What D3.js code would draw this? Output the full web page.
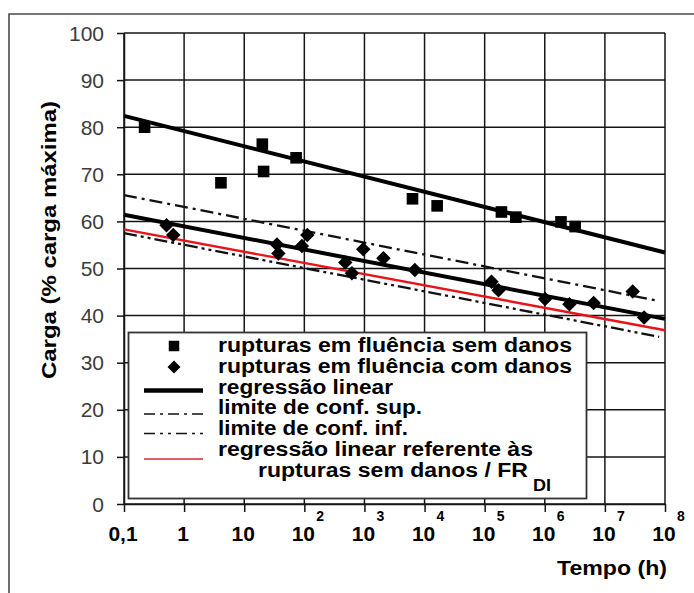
<!DOCTYPE html>
<html>
<head>
<meta charset="utf-8">
<script src="https://cdn.jsdelivr.net/npm/d3@7"></script>
<style>
  body { margin: 0; background: #fff; }
  svg { display: block; }
  text { font-family: "Liberation Sans", Arial, Helvetica, sans-serif; }
</style>
</head>
<body>
<svg id="chart" width="694" height="593"></svg>
<script>
// Axis ticks
const timeTicks = [0.1, 1, 10, 1e2, 1e3, 1e4, 1e5, 1e6, 1e7, 1e8];
const timeTickBase = ["0,1", "1", "10", "10", "10", "10", "10", "10", "10", "10"];
const timeTickExp = ["", "", "", "2", "3", "4", "5", "6", "7", "8"];
const loadTicks = [0, 10, 20, 30, 40, 50, 60, 70, 80, 90, 100];

// Creep ruptures without damage (time in h, load in % of max)
const semDanosTime = [0.22, 4.1, 20, 21, 73, 6300, 16200, 1.9e5, 3.3e5, 1.86e6, 3.2e6];
const semDanosLoad = [80.0, 68.2, 76.4, 70.6, 73.5, 64.8, 63.3, 62.0, 60.9, 59.9, 58.9];

// Creep ruptures with damage
const comDanosTime = [0.51, 0.66, 35, 37, 91, 112, 480, 620, 955, 2070, 6900,
                      1.3e5, 1.7e5, 1.01e6, 2.57e6, 6.5e6, 2.9e7, 4.5e7];
const comDanosLoad = [59.2, 57.1, 55.1, 53.2, 54.8, 57.1, 51.3, 49.0, 54.1, 52.2, 49.7,
                      47.2, 45.4, 43.5, 42.4, 42.7, 45.1, 39.6];

// Fitted lines (end points)
const regSemTime = [0.1, 1e8];
const regSemLoad = [82.4, 53.4];
const regComTime = [0.1, 1e8];
const regComLoad = [61.4, 39.3];
const confSupTime = [0.1, 8e7];
const confSupLoad = [65.6, 43.1];
const confInfTime = [0.1, 8e7];
const confInfLoad = [57.5, 35.5];
const regRedTime = [0.1, 1e8];
const regRedLoad = [58.3, 36.9];

const legendLabels = [
  "rupturas em fluência sem danos",
  "rupturas em fluência com danos",
  "regressão linear",
  "limite de conf. sup.",
  "limite de conf. inf.",
  "regressão linear referente às"
];

const svg = d3.select("#chart");
const x = d3.scaleLog().domain([0.1, 1e8]).range([124, 665]);
const y = d3.scaleLinear().domain([0, 100]).range([504, 33]);

// outer frame (top and left edges)
svg.append("path")
  .attr("d", "M9,593 L9,14 L694,14")
  .attr("fill", "none").attr("stroke", "#4a4a4a").attr("stroke-width", 1.6);

// grid
const grid = svg.append("g").attr("stroke", "#151515").attr("stroke-width", 1.5);
grid.selectAll("line.v").data(timeTicks).join("line")
  .attr("x1", d => x(d)).attr("x2", d => x(d))
  .attr("y1", y(100)).attr("y2", y(0));
grid.selectAll("line.h").data(loadTicks).join("line")
  .attr("x1", x(0.1)).attr("x2", x(1e8))
  .attr("y1", d => y(d)).attr("y2", d => y(d));

// axes (tick marks)
const yAxis = svg.append("g").attr("transform", `translate(${x(0.1)},0)`)
  .call(d3.axisLeft(y).tickValues(loadTicks).tickSize(7).tickSizeOuter(0).tickFormat(""));
const xAxis = svg.append("g").attr("transform", `translate(0,${y(0)})`)
  .call(d3.axisBottom(x).tickValues(timeTicks).tickSize(8).tickSizeOuter(0).tickFormat(""));
[yAxis, xAxis].forEach(a => {
  a.selectAll("path,line").attr("stroke", "#151515").attr("stroke-width", 1.5);
});

// y tick labels
svg.append("g").selectAll("text").data(loadTicks).join("text")
  .attr("x", 104).attr("y", d => y(d)).attr("dy", "0.36em")
  .attr("text-anchor", "end").attr("font-size", 21).attr("fill", "#3c3c3c")
  .text(d => d);

// x tick labels with exponents
const xl = svg.append("g");
timeTicks.forEach((t, i) => {
  const cx = x(t);
  xl.append("text")
    .attr("x", cx - 1).attr("y", 541)
    .attr("text-anchor", "middle").attr("font-size", 21).attr("font-weight", "bold")
    .attr("fill", "#000").text(timeTickBase[i]);
  if (timeTickExp[i]) {
    xl.append("text")
      .attr("x", cx + 12).attr("y", 521)
      .attr("font-size", 14).attr("font-weight", "bold").attr("fill", "#000")
      .text(timeTickExp[i]);
  }
});

// axis titles
svg.append("text")
  .attr("transform", "translate(56,240) rotate(-90)")
  .attr("text-anchor", "middle").attr("font-size", 21).attr("font-weight", "bold")
  .attr("textLength", 278).attr("lengthAdjust", "spacingAndGlyphs")
  .text("Carga (% carga máxima)");
svg.append("text")
  .attr("x", 557).attr("y", 575)
  .attr("font-size", 21).attr("font-weight", "bold")
  .attr("textLength", 110).attr("lengthAdjust", "spacingAndGlyphs")
  .text("Tempo (h)");

// lines
const line = d3.line().x(d => x(d[0])).y(d => y(d[1]));
const pairs = (ts, ls) => ts.map((t, i) => [t, ls[i]]);
const lines = svg.append("g").attr("fill", "none");
lines.append("path").attr("d", line(pairs(confSupTime, confSupLoad)))
  .attr("stroke", "#111").attr("stroke-width", 2.3).attr("stroke-dasharray", "13,5,3,5");
lines.append("path").attr("d", line(pairs(confInfTime, confInfLoad)))
  .attr("stroke", "#111").attr("stroke-width", 2.3).attr("stroke-dasharray", "13,4,3,4,3,4");
lines.append("path").attr("d", line(pairs(regRedTime, regRedLoad)))
  .attr("stroke", "#e8141a").attr("stroke-width", 2.4);
lines.append("path").attr("d", line(pairs(regSemTime, regSemLoad)))
  .attr("stroke", "#000").attr("stroke-width", 4);
lines.append("path").attr("d", line(pairs(regComTime, regComLoad)))
  .attr("stroke", "#000").attr("stroke-width", 4);

// markers
const square = d3.symbol().type(d3.symbolSquare).size(135);
svg.append("g").selectAll("path").data(pairs(semDanosTime, semDanosLoad)).join("path")
  .attr("d", square)
  .attr("transform", d => `translate(${x(d[0])},${y(d[1])})`)
  .attr("fill", "#000");
const diamond = d3.symbol().type(d3.symbolSquare).size(105);
svg.append("g").selectAll("path").data(pairs(comDanosTime, comDanosLoad)).join("path")
  .attr("d", diamond)
  .attr("transform", d => `translate(${x(d[0])},${y(d[1])}) rotate(45)`)
  .attr("fill", "#000");

// legend
const lg = svg.append("g");
lg.append("rect").attr("x", 128.5).attr("y", 332.5).attr("width", 458).attr("height", 166)
  .attr("fill", "#fff").attr("stroke", "#333").attr("stroke-width", 1.8);
const rowY = [346, 367, 390.5, 414, 433.5, 459];
const textY = [352, 372.8, 393.6, 414.4, 435.2, 456];
const textW = [354, 354, 175, 204, 190, 315];
lg.append("path").attr("d", d3.symbol().type(d3.symbolSquare).size(110)())
  .attr("transform", `translate(174,${rowY[0]})`);
lg.append("path").attr("d", d3.symbol().type(d3.symbolSquare).size(85)())
  .attr("transform", `translate(174,${rowY[1]}) rotate(45)`);
lg.append("line").attr("x1", 144).attr("x2", 203).attr("y1", rowY[2]).attr("y2", rowY[2])
  .attr("stroke", "#000").attr("stroke-width", 4.5);
lg.append("line").attr("x1", 144).attr("x2", 203).attr("y1", rowY[3]).attr("y2", rowY[3])
  .attr("stroke", "#111").attr("stroke-width", 1.5).attr("stroke-dasharray", "11,5,3,5");
lg.append("line").attr("x1", 144).attr("x2", 203).attr("y1", rowY[4]).attr("y2", rowY[4])
  .attr("stroke", "#111").attr("stroke-width", 1.5).attr("stroke-dasharray", "11,5,3,5,3,5");
lg.append("line").attr("x1", 144).attr("x2", 203).attr("y1", rowY[5]).attr("y2", rowY[5])
  .attr("stroke", "#d22a30").attr("stroke-width", 1.5);
lg.selectAll("text.l").data(legendLabels).join("text")
  .attr("x", 218).attr("y", (d, i) => textY[i])
  .attr("textLength", (d, i) => textW[i]).attr("lengthAdjust", "spacingAndGlyphs")
  .attr("font-size", 19.5).attr("font-weight", "bold").text(d => d);
lg.append("text").attr("x", 258).attr("y", 476.8)
  .attr("textLength", 270).attr("lengthAdjust", "spacingAndGlyphs")
  .attr("font-size", 19.5).attr("font-weight", "bold")
  .text("rupturas sem danos / FR");
lg.append("text").attr("x", 533).attr("y", 491)
  .attr("textLength", 18).attr("lengthAdjust", "spacingAndGlyphs")
  .attr("font-size", 16).attr("font-weight", "bold")
  .text("DI");
</script>
</body>
</html>
